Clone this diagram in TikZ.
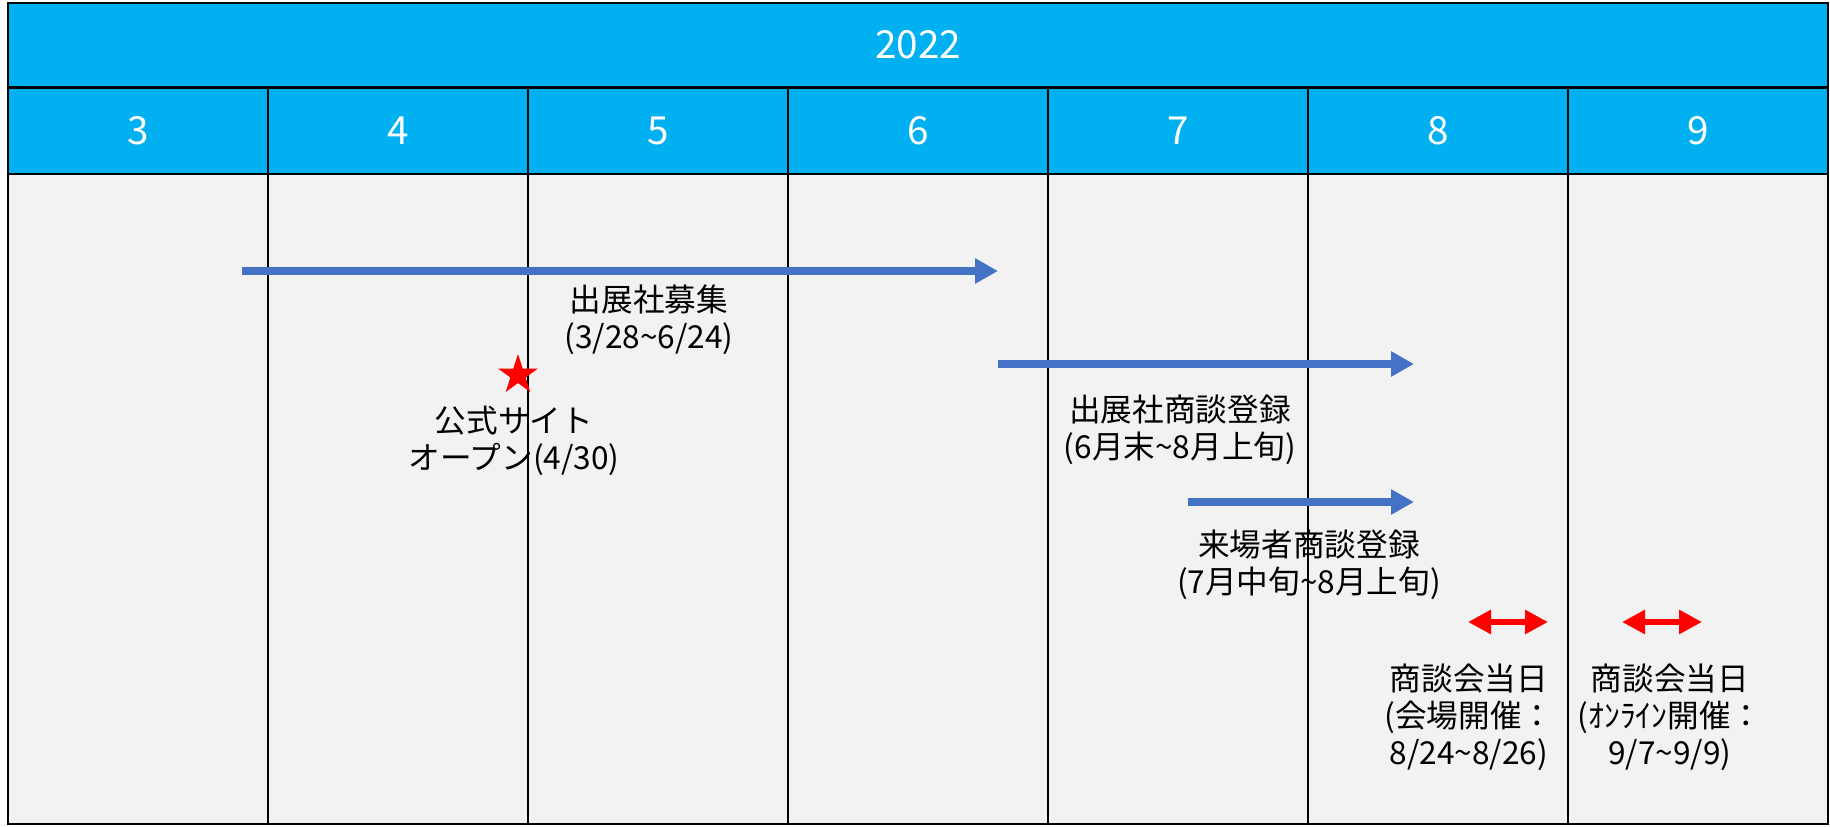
\documentclass[tikz,border=0pt]{standalone}
\usepackage{fontspec}
\setmainfont{Noto Sans CJK JP}
\usetikzlibrary{arrows.meta,shapes.geometric}
\definecolor{headcyan}{HTML}{00B0F0}
\definecolor{bodygray}{HTML}{F2F2F2}
\definecolor{barblue}{HTML}{4472C4}

\begin{document}
\begin{tikzpicture}[x=0.02cm,y=0.02cm]
\tikzstyle{every node}+=[inner sep=0pt]
\tikzstyle{grid}=[black, line width=1.5pt]
\tikzstyle{head}=[text=white, font=\fontsize{22}{26}\selectfont]
\tikzstyle{lbl}=[align=center, font=\fontsize{18}{21}\selectfont]
\tikzstyle{period}=[draw=barblue, line width=0.15cm, -{Triangle[length=0.46cm,width=0.48cm]}]
\tikzstyle{event}=[draw=red, line width=0.12cm, {Triangle[length=0.46cm,width=0.46cm]}-{Triangle[length=0.46cm,width=0.46cm]}]
\useasboundingbox (0,0) rectangle (1830,-826);
\fill [headcyan] (8,-3) rectangle (1828,-174);
\fill [bodygray] (8,-174) rectangle (1828,-824);
\draw [grid] (8,-3) rectangle (1828,-824);
\draw [grid] (8,-87.5) -- (1828,-87.5);
\draw [grid] (8,-174) -- (1828,-174);
\foreach \i in {1,...,6}
  \draw [grid] (8+260*\i,-87.5) -- (8+260*\i,-824);
\node [head] (year) at (918,-45) {2022};
\foreach \m [count=\i from 0] in {3,...,9}
  \node [head] (m\m) at (138+260*\i,-131) {\m};
\coordinate (rec1) at (242,-271);
\coordinate (rec2) at (998,-271);
\draw [period] (rec1) -- (rec2);
\node [lbl] (recruit) at (649,-320) {出展社募集\\(3/28\textasciitilde 6/24)};
\node [star, star points=5, star point ratio=2.618, fill=red, minimum size=0.84cm] (open) at (518,-375) {};
\node [lbl] (opentext) at (514,-441) {公式サイト\\オープン(4/30)};
\coordinate (exh1) at (998,-364);
\coordinate (exh2) at (1414,-364);
\draw [period] (exh1) -- (exh2);
\node [lbl] (exhreg) at (1180,-430) {出展社商談登録\\(6月末\textasciitilde 8月上旬)};
\coordinate (vis1) at (1188,-502);
\coordinate (vis2) at (1414,-502);
\draw [period] (vis1) -- (vis2);
\node [lbl] (visreg) at (1309,-565) {来場者商談登録\\(7月中旬\textasciitilde 8月上旬)};
\coordinate (day1) at (1468,-622);
\coordinate (day2) at (1548,-622);
\draw [event] (day1) -- (day2);
\node [lbl] (venue) at (1469,-717) {商談会当日\\(会場開催：\\8/24\textasciitilde 8/26)};
\coordinate (onl1) at (1622,-622);
\coordinate (onl2) at (1702,-622);
\draw [event] (onl1) -- (onl2);
\node [lbl] (online) at (1670,-717) {商談会当日\\(ｵﾝﾗｲﾝ開催：\\9/7\textasciitilde 9/9)};
\end{tikzpicture}
\end{document}
